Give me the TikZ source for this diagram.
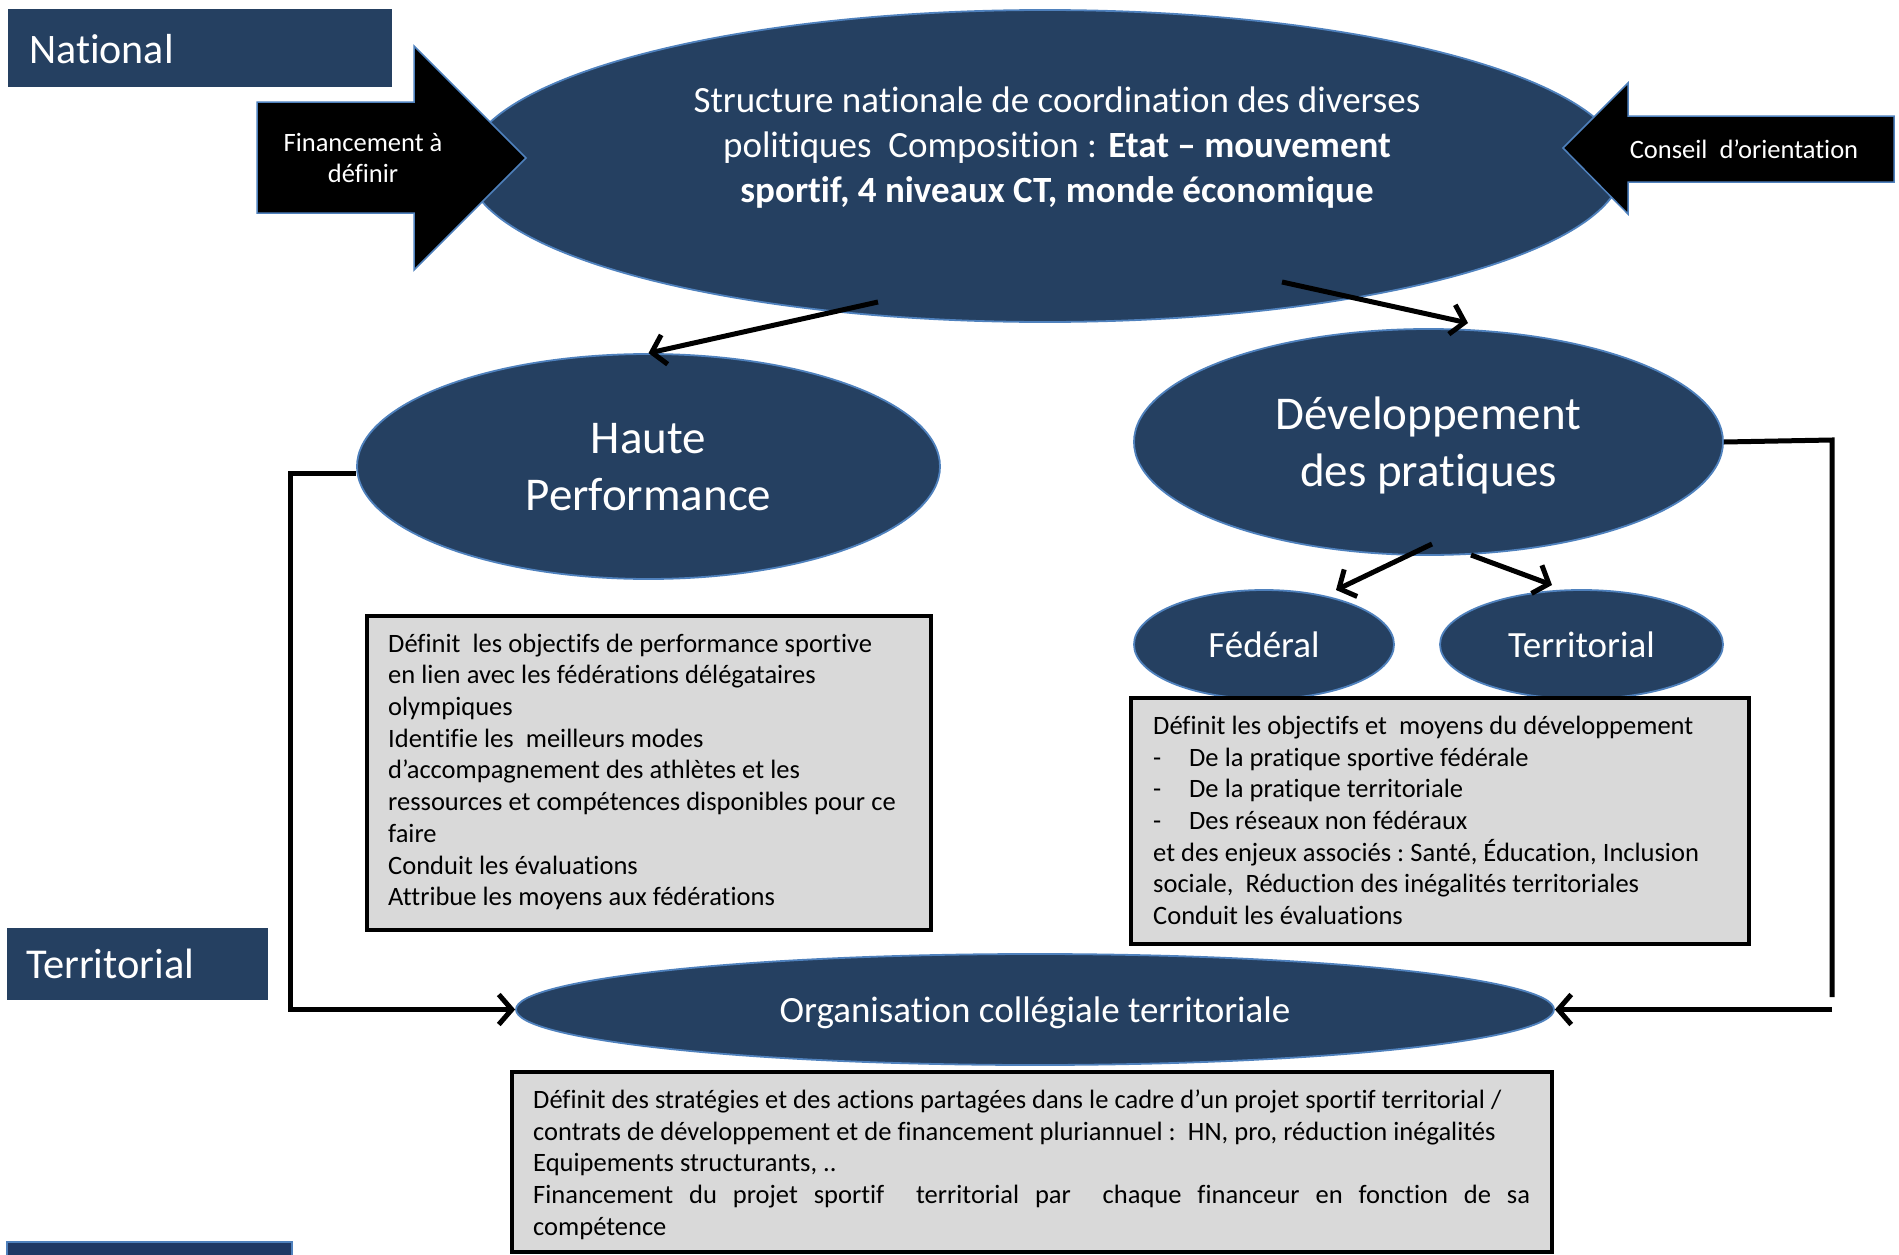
\documentclass[tikz,border=0pt]{standalone}
\usepackage{fontspec}
\setmainfont{Carlito}[Ligatures=NoCommon]
\usetikzlibrary{arrows.meta,shapes.geometric}
\definecolor{navy}{RGB}{37,64,97}
\definecolor{navydark}{RGB}{31,56,100}
\definecolor{edgeblue}{RGB}{79,129,189}
\definecolor{boxgray}{RGB}{217,217,217}
\newcommand{\narrowspaces}{\frenchspacing\spaceskip=6.1pt plus 2pt minus 1pt\relax}
\begin{document}
\begin{tikzpicture}[x=1pt,y=-1pt,
  ell/.style={ellipse, fill=navy, draw=edgeblue, line width=1.8pt, inner sep=0pt, text=white, align=center, text depth=0pt},
  bigtxt/.style={font=\fontsize{47}{57}\selectfont},
  midtxt/.style={font=\fontsize{37}{45}\selectfont},
  smalltxt/.style={font=\fontsize{26.5}{31.7}\selectfont},
  levelbox/.style={fill=navy, draw=none},
  levellabel/.style={text=white, inner sep=0pt, anchor=base west},
  graybox/.style={fill=boxgray, draw=black, line width=4.5pt},
  boxtext/.style={smalltxt, anchor=north west, inner sep=0pt, align=left, text width=1040pt},
  bigarrow/.style={fill=black, draw=edgeblue, line width=1.5pt},
  conn/.style={line width=5pt, -{Straight Barb[length=13pt,width=30pt]}},
  plainline/.style={line width=5pt}
]
\useasboundingbox (0,0) rectangle (1899,1255);

% level labels
\path[levelbox] (8,9) rectangle (392,87);
\node[levellabel, font=\fontsize{42}{50}\selectfont] (national) at (29,64) {National};
\path[levelbox] (7,928) rectangle (268,1000);
\node[levellabel, font=\fontsize{42.5}{50}\selectfont] (territorial) at (26,978) {Territorial};
\path[fill=navydark, draw=edgeblue, line width=2pt] (7,1242) rectangle (292,1275);

% main ellipse
\node[ell, minimum width=1156pt, minimum height=312pt] (main) at (1045,166) {};
\node[midtxt, text=white, align=center, inner sep=0pt] (maintext) at (1057,148)
  {Structure nationale de coordination des diverses\\
   politiques\ \ Composition : \textbf{Etat – mouvement}\\
   \textbf{sportif, 4 niveaux CT, monde économique}};

% side arrows
\path[bigarrow] (257,102) -- (414,102) -- (414,46) -- (526,158) -- (414,270) -- (414,213) -- (257,213) -- cycle;
\node[smalltxt, text=white, align=center, inner sep=0pt] (financement) at (363,158) {Financement à\\définir};
\path[bigarrow] (1894,116) -- (1628,116) -- (1628,83) -- (1563,148) -- (1628,214) -- (1628,182) -- (1894,182) -- cycle;
\node[smalltxt, text=white, inner sep=0pt] (conseil) at (1744,149) {Conseil\ \ d’orientation};

% second-level ellipses
\node[ell, bigtxt, minimum width=583pt, minimum height=225pt] (hp) at (648.5,466.5) {Haute\\Performance};
\node[ell, bigtxt, minimum width=589pt, minimum height=226pt] (dev) at (1428.5,442) {Développement\\des pratiques};
\node[ell, midtxt, minimum width=260pt, minimum height=109pt] (fed) at (1264,644.5) {Fédéral};
\node[ell, midtxt, minimum width=283pt, minimum height=109pt] (terr) at (1581.5,644.5) {Territorial};
\node[ell, midtxt, minimum width=1038pt, minimum height=111pt] (org) at (1035,1009.5) {Organisation collégiale territoriale};

% gray boxes
\path[graybox] (367,616) rectangle (931,930);
\node[boxtext] (hptext) at (388,629.8) {\narrowspaces\strut Définit\ \ les objectifs de performance sportive\\
en lien avec les fédérations délégataires\\
olympiques\\
Identifie les\ \ meilleurs modes\\
d’accompagnement des athlètes et les\\
ressources et compétences disponibles pour ce\\
faire\\
Conduit les évaluations\\
Attribue les moyens aux fédérations};

\path[graybox] (1131,698) rectangle (1749,944);
\node[boxtext] (devtext) at (1153,712) {\narrowspaces\strut Définit les objectifs et\ \ moyens du développement\\
\makebox[36pt][l]{-}De la pratique sportive fédérale\\
\makebox[36pt][l]{-}De la pratique territoriale\\
\makebox[36pt][l]{-}Des réseaux non fédéraux\\
et des enjeux associés : Santé, Éducation, Inclusion\\
sociale,\ \ Réduction des inégalités territoriales\\
Conduit les évaluations};

\path[graybox] (512,1072) rectangle (1552,1252);
\node[boxtext] (orgtext) at (533,1086) {\narrowspaces\strut Définit des stratégies et des actions partagées dans le cadre d’un projet sportif territorial /\\
contrats de développement et de financement pluriannuel :\ \ HN, pro, réduction inégalités\\
Equipements structurants, ..\\
\makebox[997pt][s]{Financement du projet sportif\ \ territorial par\ \ chaque financeur en fonction de sa}\\
compétence};

% connectors
\coordinate (s1) at (878,302);
\coordinate (s2) at (1282,282);
\coordinate (t2) at (1468,323);
\coordinate (s3) at (1432,544);
\coordinate (t3) at (1336,590);
\coordinate (s4) at (1471,555);
\coordinate (t4) at (1552,585);
\coordinate (lc) at (290,473);
\coordinate (rc) at (1832,440);
\coordinate (rb) at (1832,997);
\coordinate (rh) at (1832,1009.5);

\draw[conn] (s1) -- (hp.north);
\draw[conn] (s2) -- (t2);
\draw[conn] (s3) -- (t3);
\draw[conn] (s4) -- (t4);
\draw[conn] (hp.west |- lc) -- (lc) |- (org.west);
\draw[plainline] (dev.east) -- (rc) -- (rb);
\draw[conn] (rh) -- (org.east);
\end{tikzpicture}
\end{document}
